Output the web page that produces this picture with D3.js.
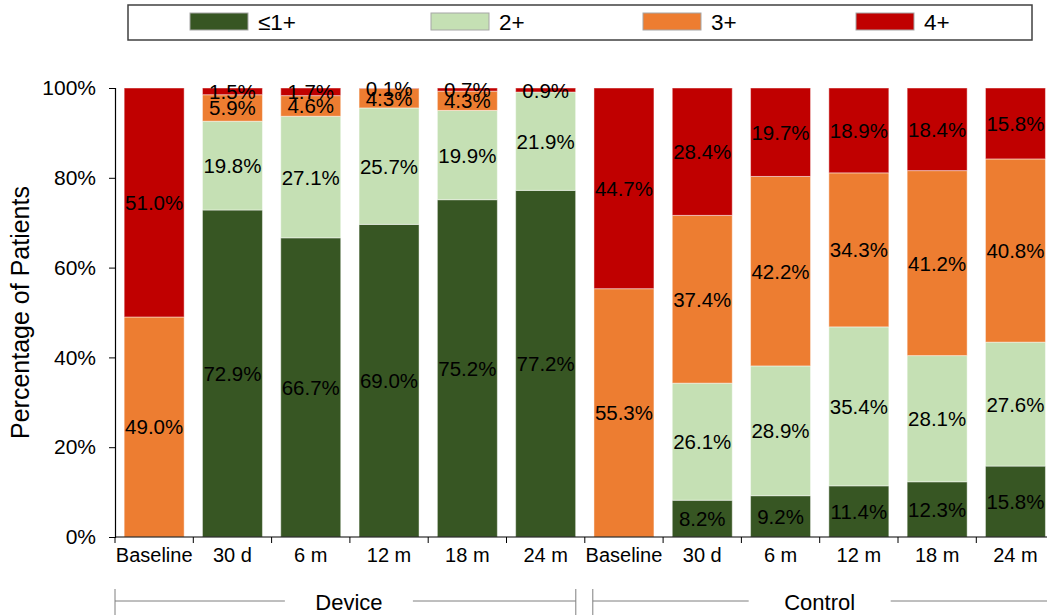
<!DOCTYPE html>
<html>
<head>
<meta charset="utf-8">
<script src="https://cdn.jsdelivr.net/npm/d3@7"></script>
<style>
  html, body { margin: 0; padding: 0; background: #fff; }
  svg { display: block; font-family: "Liberation Sans", Arial, sans-serif; }
</style>
</head>
<body>
<svg id="chart" width="1047" height="616"></svg>
<script>
// ---- Data ----
const groups = ["Device", "Control"];
const timepoints = ["Baseline", "30 d", "6 m", "12 m", "18 m", "24 m"];
const seriesNames = ["≤1+", "2+", "3+", "4+"];
const seriesColors = ["#375623", "#c5e0b4", "#ed7d31", "#c00000"];
// values per bar: Device (Baseline..24 m), then Control (Baseline..24 m)
const le1   = [0, 72.9, 66.7, 69.0, 75.2, 77.2,   0,  8.2,  9.2, 11.4, 12.3, 15.8];
const two   = [0, 19.8, 27.1, 25.7, 19.9, 21.9,   0, 26.1, 28.9, 35.4, 28.1, 27.6];
const three = [49.0, 5.9, 4.6, 4.3, 4.3, 0,    55.3, 37.4, 42.2, 34.3, 41.2, 40.8];
const four  = [51.0, 1.5, 1.7, 0.1, 0.7, 0.9,  44.7, 28.4, 19.7, 18.9, 18.4, 15.8];
const yTicks = [0, 0.2, 0.4, 0.6, 0.8, 1.0];

// ---- Build table ----
const seriesVals = [le1, two, three, four];
const rows = [];
groups.forEach((g, gi) => {
  timepoints.forEach((t, ti) => {
    const idx = gi * timepoints.length + ti;
    const r = { key: g + "|" + t, group: g, label: t };
    seriesNames.forEach((s, si) => r[s] = seriesVals[si][idx]);
    rows.push(r);
  });
});

const svg = d3.select("#chart");
const mLeft = 115, mTop = 88, mBottom = 537;
const bandStep = 78.3;
const x = d3.scaleBand()
  .domain(rows.map(d => d.key))
  .range([mLeft, mLeft + bandStep * rows.length])
  .paddingInner(0.234)
  .paddingOuter(0.117);
const y = d3.scaleLinear().domain([0, 1]).range([mBottom, mTop]);
const color = d3.scaleOrdinal().domain(seriesNames).range(seriesColors);

const stacker = d3.stack().keys(seriesNames).offset(d3.stackOffsetExpand);
const stacked = stacker(rows);

// ---- Bars ----
const layers = svg.append("g").selectAll("g")
  .data(stacked).join("g")
  .attr("fill", d => color(d.key));
layers.selectAll("rect")
  .data(d => d.map(p => ({ p, key: d.key })))
  .join("rect")
  .attr("x", d => x(d.p.data.key))
  .attr("width", x.bandwidth())
  .attr("y", d => y(d.p[1]))
  .attr("height", d => Math.max(0, y(d.p[0]) - y(d.p[1])))
  .attr("stroke", "rgba(255,255,255,0.45)")
  .attr("stroke-width", 1);

// ---- Data labels ----
const labelG = svg.append("g");
stacked.forEach(layer => {
  layer.forEach(p => {
    const v = p.data[layer.key];
    if (!v) return;
    labelG.append("text")
      .attr("x", x(p.data.key) + x.bandwidth() / 2)
      .attr("y", y((p[0] + p[1]) / 2))
      .attr("text-anchor", "middle")
      .attr("dominant-baseline", "central")
      .attr("font-size", 20.5)
      .attr("fill", "#000")
      .text(d3.format(".1f")(v) + "%");
  });
});

// ---- Y axis ----
const yAxis = svg.append("g")
  .attr("transform", `translate(${mLeft},0)`)
  .call(d3.axisLeft(y).tickValues(yTicks).tickFormat(d3.format(".0%")).tickSize(6).tickPadding(13));
yAxis.select(".domain").attr("stroke", "#000").attr("stroke-width", 1.2);
yAxis.selectAll(".tick line").attr("stroke", "#000");
yAxis.selectAll("text").attr("font-size", 21).attr("font-family", "Liberation Sans, Arial, sans-serif").attr("fill", "#000");

// ---- X axis ----
const xAxis = svg.append("g")
  .attr("transform", `translate(0,${mBottom})`)
  .call(d3.axisBottom(x).tickSize(0).tickPadding(11).tickFormat(k => rows.find(r => r.key === k).label));
xAxis.select(".domain").attr("d", `M${mLeft},0H1047`).attr("stroke", "#000").attr("stroke-width", 1.2);
xAxis.selectAll("text").attr("font-size", 20).attr("font-family", "Liberation Sans, Arial, sans-serif").attr("fill", "#000");
// boundary ticks
const bounds = rows.map(r => x(r.key) - x.step() * x.paddingInner() / 2);
bounds.push(bounds[bounds.length - 1] + x.step());
xAxis.selectAll(".btick").data(bounds).join("line")
  .attr("class", "btick")
  .attr("x1", d => d).attr("x2", d => d)
  .attr("y1", 0).attr("y2", 6)
  .attr("stroke", "#000");

// ---- Y title ----
svg.append("text")
  .attr("transform", `translate(29,${(mTop + mBottom) / 2}) rotate(-90)`)
  .attr("text-anchor", "middle")
  .attr("font-size", 25)
  .attr("fill", "#000")
  .text("Percentage of Patients");

// ---- Group brackets ----
const gy = 601;
groups.forEach((g, gi) => {
  const keys = rows.filter(r => r.group === g).map(r => r.key);
  const start = x(keys[0]) - x.step() * x.paddingInner() / 2;
  const end = x(keys[keys.length - 1]) + x.bandwidth() + x.step() * x.paddingInner() / 2;
  const x0 = gi === 0 ? start : start + 8;
  const x1 = gi === 0 ? end - 9 : end;
  const cx = (start + end) / 2 - (gi === 0 ? 1 : 0);
  const gap = gi === 0 ? 64 : 71;
  const gg = svg.append("g").attr("stroke", "#7f7f7f").attr("stroke-width", 1);
  gg.append("line").attr("x1", x0).attr("x2", cx - gap).attr("y1", gy).attr("y2", gy);
  gg.append("line").attr("x1", cx + gap).attr("x2", x1).attr("y1", gy).attr("y2", gy);
  gg.append("line").attr("x1", x0).attr("x2", x0).attr("y1", gy - 12).attr("y2", gy + 14);
  if (gi === 0) gg.append("line").attr("x1", x1).attr("x2", x1).attr("y1", gy - 12).attr("y2", gy + 14);
  svg.append("text")
    .attr("x", cx).attr("y", gy + 1)
    .attr("text-anchor", "middle")
    .attr("dominant-baseline", "central")
    .attr("font-size", 22)
    .attr("fill", "#000")
    .text(g);
});

// ---- Legend ----
svg.append("rect")
  .attr("x", 128).attr("y", 5).attr("width", 904).attr("height", 35)
  .attr("fill", "#fff").attr("stroke", "#404040").attr("stroke-width", 1.5);
const legendX = [190, 431, 643, 856];
seriesNames.forEach((s, i) => {
  svg.append("rect")
    .attr("x", legendX[i]).attr("y", 13).attr("width", 58).attr("height", 17)
    .attr("fill", color(s)).attr("stroke", "#a6a6a6").attr("stroke-width", 1);
  svg.append("text")
    .attr("x", legendX[i] + 68).attr("y", 22)
    .attr("dominant-baseline", "central")
    .attr("font-size", 22.5)
    .attr("fill", "#000")
    .text(s);
});
</script>
</body>
</html>
